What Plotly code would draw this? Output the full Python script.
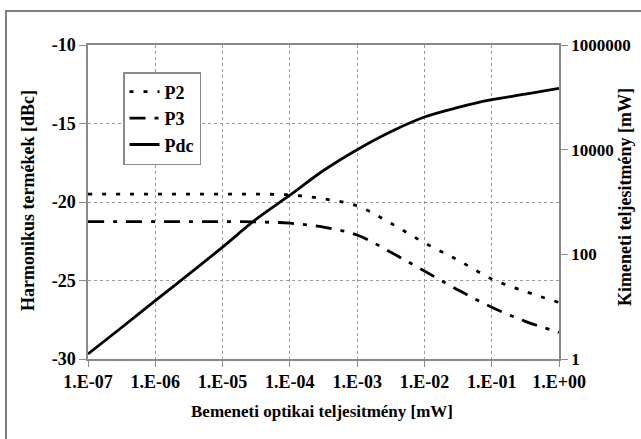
import plotly.graph_objects as go

# Data
x_mw = [1e-7, 3.16e-7, 1e-6, 3.16e-6, 1e-5, 3.16e-5, 1e-4, 3.16e-4,
        1e-3, 3.16e-3, 1e-2, 3.16e-2, 1e-1, 3.16e-1, 1e0]
p2_dbc = [-19.5, -19.5, -19.5, -19.5, -19.5, -19.5, -19.55, -19.8,
          -20.25, -21.35, -22.6, -23.7, -24.9, -25.7, -26.4]
p3_dbc = [-21.25, -21.25, -21.25, -21.25, -21.25, -21.27, -21.35, -21.6,
          -22.1, -23.2, -24.4, -25.6, -26.7, -27.6, -28.3]
pdc_mw = [1.25, 4.0, 13, 42, 137, 470, 1350, 4000,
          10000, 22000, 42000, 64000, 90000, 115000, 148000]

x_ticks = [1e-7, 1e-6, 1e-5, 1e-4, 1e-3, 1e-2, 1e-1, 1e0]
x_labels = ["1.E-07", "1.E-06", "1.E-05", "1.E-04", "1.E-03", "1.E-02", "1.E-01", "1.E+00"]
y_ticks = [-30, -25, -20, -15, -10]
y_labels = ["-30", "-25", "-20", "-15", "-10"]
y2_ticks = [1, 100, 10000, 1000000]
y2_labels = ["1", "100", "10000", "1000000"]

FONT = "Liberation Serif, Times New Roman, serif"
fs = 18

def f(size=fs):
    return dict(family=FONT, size=size, color="black", weight="bold")

fig = go.Figure()
fig.add_trace(go.Scatter(x=x_mw, y=p2_dbc, name="P2", mode="lines", line_shape="spline",
                         line=dict(color="black", width=2.8, dash="4px,10px")))
fig.add_trace(go.Scatter(x=x_mw, y=p3_dbc, name="P3", mode="lines", line_shape="spline",
                         line=dict(color="black", width=2.8, dash="16px,9px,4px,9px")))
fig.add_trace(go.Scatter(x=x_mw, y=pdc_mw, name="Pdc", mode="lines", line_shape="spline",
                         yaxis="y2", line=dict(color="black", width=2.8)))

L, R, T, B = 88, 82, 45, 80
W, H = 641, 439
pw, ph = W - L - R, H - T - B

def px2paper_x(px):
    return (px - L) / pw

def px2paper_y(py):
    return (H - B - py) / ph

fig.update_layout(
    width=W, height=H,
    margin=dict(l=L, r=R, t=T, b=B, pad=0, autoexpand=False),
    paper_bgcolor="white", plot_bgcolor="white",
    font=f(),
    showlegend=True,
    legend=dict(x=px2paper_x(123), y=px2paper_y(72), xanchor="left", yanchor="top",
                bordercolor="#8a8a8a", borderwidth=1.5, bgcolor="white",
                font=f(), itemwidth=30, tracegroupgap=0),
    xaxis=dict(type="log", range=[-7, 0], tickvals=x_ticks, ticktext=x_labels,
               showgrid=True, gridcolor="#9a9a9a", griddash="dot", gridwidth=1,
               showline=True, linecolor="#8a8a8a", linewidth=1.5, mirror=True,
               ticks="outside", ticklen=6, tickcolor="#8a8a8a", zeroline=False,
               automargin=False, tickfont=f()),
    yaxis=dict(range=[-30, -10], tickvals=y_ticks, ticktext=y_labels,
               showgrid=True, gridcolor="#9a9a9a", griddash="dot", gridwidth=1,
               showline=True, linecolor="#8a8a8a", linewidth=1.5, mirror=True,
               ticks="outside", ticklen=7, tickcolor="#8a8a8a", zeroline=False,
               automargin=False, tickfont=f()),
    yaxis2=dict(type="log", range=[0, 6], overlaying="y", side="right",
                tickvals=y2_ticks, ticktext=y2_labels, showgrid=False,
                showline=True, linecolor="#8a8a8a", linewidth=1.5,
                ticks="outside", ticklen=7, tickcolor="#8a8a8a", zeroline=False,
                automargin=False, tickfont=f(17)),
    annotations=[
        dict(text="Bemeneti optikai teljesitmény [mW]", xref="paper", yref="paper",
             x=px2paper_x(322), y=px2paper_y(411), showarrow=False,
             xanchor="center", yanchor="middle", font=f(17)),
        dict(text="Harmonikus termékek [dBc]", xref="paper", yref="paper",
             x=px2paper_x(28), y=px2paper_y(201), showarrow=False, textangle=-90,
             xanchor="center", yanchor="middle", font=f(18)),
        dict(text="Kimeneti teljesitmény [mW]", xref="paper", yref="paper",
             x=px2paper_x(625), y=px2paper_y(197), showarrow=False, textangle=-90,
             xanchor="center", yanchor="middle", font=f(18)),
    ],
    shapes=[dict(type="rect", xref="paper", yref="paper",
                 x0=px2paper_x(6), x1=px2paper_x(660), y0=px2paper_y(460), y1=px2paper_y(11),
                 line=dict(color="#555555", width=1.5), fillcolor="rgba(0,0,0,0)", layer="below")],
)

fig.write_html("out.html", config={"displayModeBar": False},
               post_script="document.body.style.margin='0';document.body.style.overflow='hidden';")
